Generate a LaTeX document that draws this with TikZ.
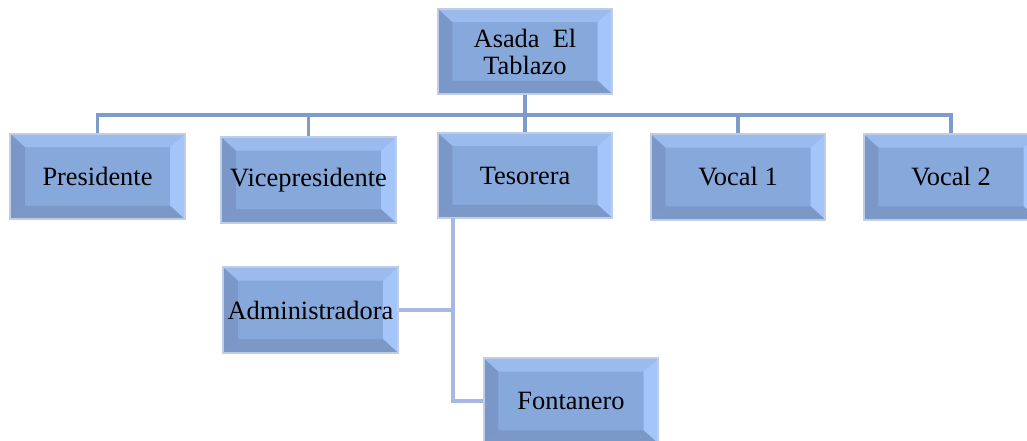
\documentclass[tikz,border=0pt]{standalone}
\usepackage{fontspec}
\setmainfont{Liberation Serif}
\usepackage{tikz}
\usetikzlibrary{positioning}
\definecolor{boxface}{HTML}{86A8DB}
\definecolor{boxtop}{HTML}{9BBBEE}
\definecolor{boxright}{HTML}{A3C5FA}
\definecolor{boxleft}{HTML}{7A97C8}
\definecolor{boxbottom}{HTML}{7B98C6}
\definecolor{boxedge}{HTML}{BFCDE6}
\definecolor{busline}{HTML}{7D9CCD}
\definecolor{subline}{HTML}{A8B8E4}
\tikzset{
    orgbox/.style = {rectangle, line width=1.5pt, draw=boxedge, fill=boxface, align=center,
      minimum width=131pt, minimum height=64pt, inner sep=0pt,
      font=\fontsize{19.8}{20.3}\selectfont, text=black,
      path picture={
        \fill[boxtop] (path picture bounding box.north west) -- (path picture bounding box.north east)
          -- ([shift={(-11pt,-10pt)}]path picture bounding box.north east) -- ([shift={(11pt,-10pt)}]path picture bounding box.north west) -- cycle;
        \fill[boxright] (path picture bounding box.north east) -- (path picture bounding box.south east)
          -- ([shift={(-11pt,10pt)}]path picture bounding box.south east) -- ([shift={(-11pt,-10pt)}]path picture bounding box.north east) -- cycle;
        \fill[boxbottom] (path picture bounding box.south east) -- (path picture bounding box.south west)
          -- ([shift={(11pt,10pt)}]path picture bounding box.south west) -- ([shift={(-11pt,10pt)}]path picture bounding box.south east) -- cycle;
        \fill[boxleft] (path picture bounding box.south west) -- (path picture bounding box.north west)
          -- ([shift={(11pt,-10pt)}]path picture bounding box.north west) -- ([shift={(11pt,10pt)}]path picture bounding box.south west) -- cycle;
      }},
    busedge/.style = {line width=2.5pt, busline},
    subedge/.style = {line width=2.5pt, subline}
}
\begin{document}
\begin{tikzpicture}[x=0.75pt, y=-0.75pt]
  \useasboundingbox (0,0) rectangle (1027,440);
  % top level
  \node[orgbox] (asada) at (525,51.5) {Asada~~El\\Tablazo};
  % board
  \node[orgbox] (pres) at (97.5,176.5) {Presidente};
  \node[orgbox] (vice) at (308.5,180) {Vicepresidente};
  \node[orgbox] (tes) at (525,175.5) {Tesorera};
  \node[orgbox] (voc1) at (738,177) {Vocal 1};
  \node[orgbox] (voc2) at (951,177) {Vocal 2};
  % staff
  \node[orgbox] (admin) at (310.5,310) {Administradora};
  \node[orgbox] (font) at (571,401) {Fontanero};
  \coordinate (bus) at (525,115);
  \draw[busedge] (asada.south) -- (bus);
  \foreach \n in {pres,vice,tes,voc1,voc2}
    \draw[busedge] (bus) -| (\n.north);
  \coordinate (drop) at (453,218);
  \draw[subedge] (drop) |- (font.west);
  \draw[subedge] (admin.east) -- (admin.east -| drop);
\end{tikzpicture}
\end{document}
